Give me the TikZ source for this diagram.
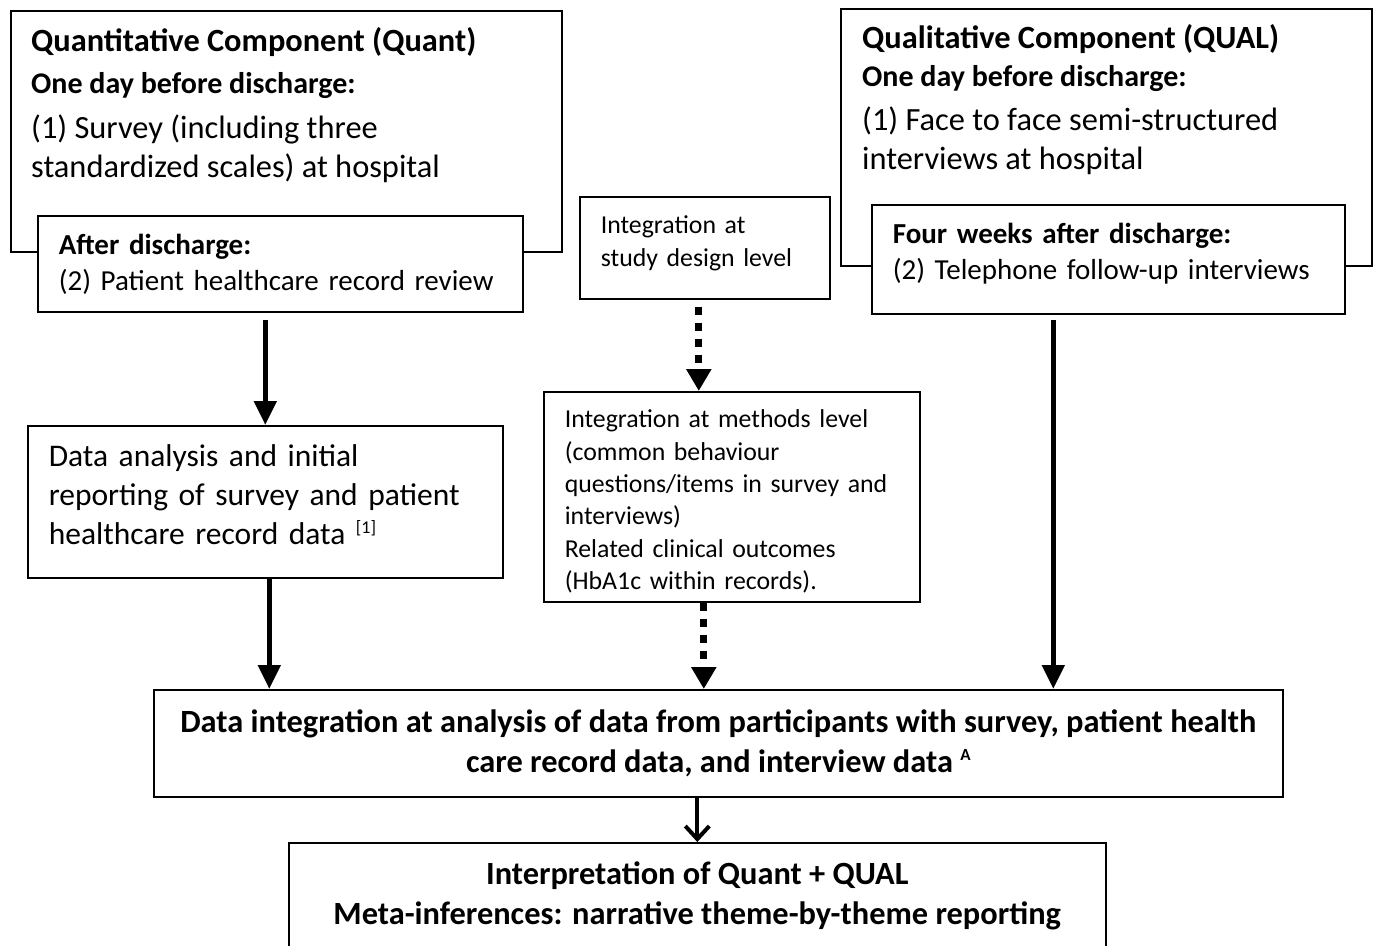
\documentclass[tikz,border=0pt]{standalone}
\usepackage{fontspec}
\setmainfont{Carlito}
\usepackage{tikz}
\usetikzlibrary{arrows.meta}
\tikzstyle{box_o} = [rectangle, draw=black, line width=1.6pt, anchor=north west, inner sep=0pt]
\tikzstyle{box_t} = [rectangle, draw=black, line width=1.6pt, fill=white, anchor=north west, inner xsep=21pt, inner ysep=0pt, align=left]
\tikzstyle{box_c} = [rectangle, draw=black, line width=1.6pt, fill=white, anchor=north west, inner sep=0pt, align=center, font=\fontsize{32.4}{40}\selectfont\bfseries]
\tikzstyle{txt_head} = [anchor=base west, inner sep=0pt, align=left, font=\fontsize{32.4}{39}\selectfont\bfseries]
\tikzstyle{txt_sub} = [anchor=base west, inner sep=0pt, align=left, font=\fontsize{30}{39}\selectfont\bfseries]
\tikzstyle{txt_body} = [anchor=base west, inner sep=0pt, align=left, font=\fontsize{32.4}{39}\selectfont]
\tikzstyle{arr_s} = [line width=5pt, -{Triangle[width=22pt,length=24pt]}]
\tikzstyle{arr_d} = [line width=7pt, dash pattern=on 8pt off 8pt, -{Triangle[width=24pt,length=22pt]}]

\begin{document}
\begin{tikzpicture}[x=1pt,y=-1pt]
\useasboundingbox (0,0) rectangle (1373,945);
\clip (0,0) rectangle (1373,945);
% quantitative side
\node [box_o, minimum width=551pt, minimum height=241pt] (quant) at (10,10) {};
\node [txt_head] (quanttitle) at (31,51) {Quantitative Component (Quant)};
\node [txt_sub] (quantwhen) at (31,93) {One day before discharge:};
\node [txt_body] (quantsurvey) at (31,177) {(1) Survey (including three\\standardized scales) at hospital};
\node [box_t, text width=443pt, minimum height=96pt, text height=26pt, text depth=44pt, font=\fontsize{29}{36}\selectfont] (quantrec) at (37,215)
    {\textbf{After discharge:}\\(2) Patient healthcare record review};
% qualitative side
\node [box_o, minimum width=531pt, minimum height=257pt] (qual) at (840,8) {};
\node [txt_head] (qualtitle) at (862,48) {Qualitative Component (QUAL)};
\node [txt_sub] (qualwhen) at (862,86) {One day before discharge:};
\node [txt_body] (qualinterv) at (862,169) {(1) Face to face semi-structured\\interviews at hospital};
\node [box_t, text width=431pt, minimum height=109pt, text height=13pt, text depth=44pt, font=\fontsize{29}{36}\selectfont] (qualfollow) at (871,204)
    {\textbf{Four weeks after discharge:}\\(2) Telephone follow-up interviews};
% integration levels
\node [box_t, text width=208pt, minimum height=102pt, text height=11pt, text depth=39pt, font=\fontsize{25.8}{32.4}\selectfont] (design) at (579,196)
    {Integration at\\study design level};
\node [box_t, text width=334pt, minimum height=210pt, text height=31pt, text depth=169pt, font=\fontsize{25.8}{32.3}\selectfont] (methods) at (543,391)
    {Integration at methods level\\(common behaviour\\questions/items in survey and\\interviews)\\Related clinical outcomes\\(HbA1c within records).};
\node [box_t, text width=433pt, minimum height=152pt, text height=16pt, text depth=86pt, font=\fontsize{31.5}{39}\selectfont] (analysis) at (27,425)
    {Data analysis and initial\\reporting of survey and patient\\healthcare record data {\fontsize{18}{18}\selectfont\raisebox{11pt}{[1]}}};
\node [box_c, minimum width=1129pt, minimum height=107pt] (integ) at (153,689)
    {Data integration at analysis of data from participants with survey, patient health\\care record data, and interview data {\fontsize{17}{17}\selectfont\raisebox{12pt}{A}}};
\node [box_c, minimum width=817pt, minimum height=106pt] (interp) at (288,842)
    {Interpretation of Quant + QUAL\\Meta-inferences: narrative theme-by-theme reporting};
% connectors
\draw [arr_s, shorten <=7pt] (quantrec.south -| analysis.north) -- (analysis.north);
\draw [arr_s] ([xshift=4pt]analysis.south) -- ([xshift=4pt]analysis.south |- integ.north);
\draw [arr_d, shorten <=7pt] ([xshift=-6pt]design.south) -- ([xshift=-6pt]design.south |- methods.north);
\draw [arr_d] ([xshift=-28pt]methods.south) -- ([xshift=-28pt]methods.south |- integ.north);
\draw [arr_s, shorten <=5pt] ([xshift=-55pt]qualfollow.south) -- ([xshift=-55pt]qualfollow.south |- integ.north);
\draw [line width=4pt, -{Straight Barb[width=24pt,length=13pt]}] (integ.south -| interp.north) -- (interp.north);
\end{tikzpicture}
\end{document}
